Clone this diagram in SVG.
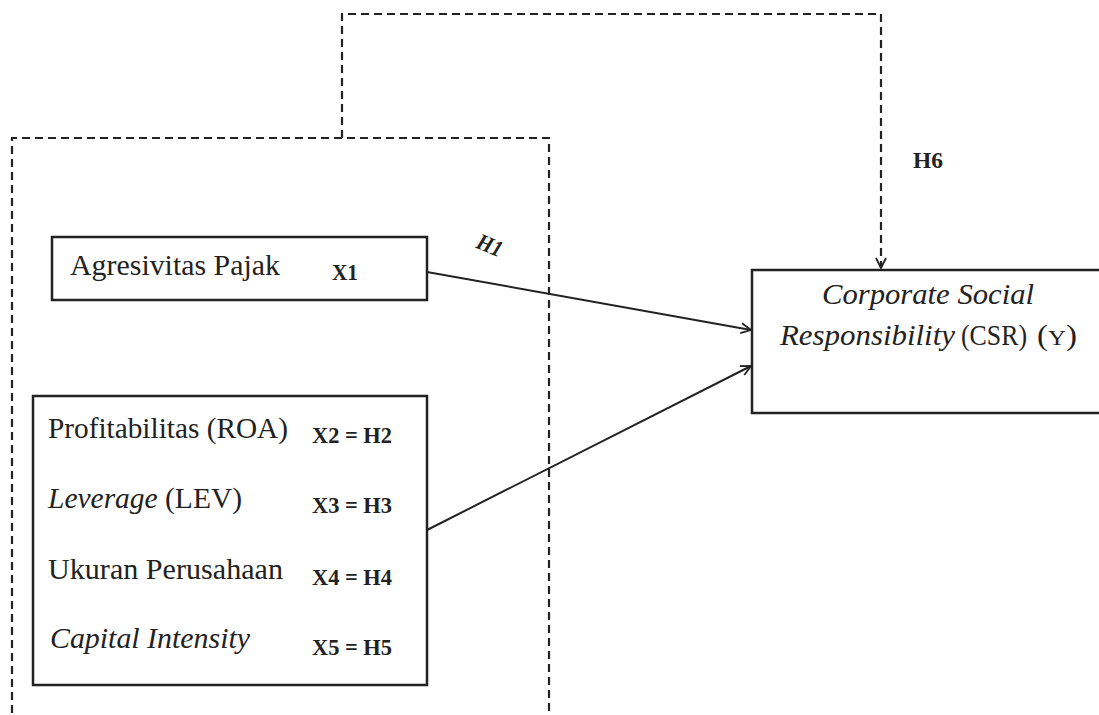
<svg xmlns="http://www.w3.org/2000/svg" width="1099" height="715" viewBox="0 0 1099 715">
<style>
.box{fill:#fff;stroke:#222;stroke-width:2.5}
.dash{fill:none;stroke:#222;stroke-width:2.2;stroke-dasharray:8,5}
.conn{fill:none;stroke:#222;stroke-width:2}
.t{font-family:"Liberation Serif",serif;font-size:29px;fill:#222}
.it{font-style:italic}
.b{font-family:"Liberation Serif",serif;font-size:23px;font-weight:bold;fill:#222}
</style>
<defs>
<marker id="arr" viewBox="0 0 12 12" refX="11" refY="6" markerWidth="12" markerHeight="12" markerUnits="userSpaceOnUse" orient="auto">
<path d="M1,1 L11,6 L1,11" fill="none" stroke="#222" stroke-width="1.8"/>
</marker>
</defs>
<rect width="1099" height="715" fill="#fff"/>
<g id="group-outline">
<path class="dash" d="M12,713 L12,138 L549,138 L549,713"/>
</g>
<g id="connectors">
<path class="dash" d="M342,138 L342,14 L881,14 L881,268" marker-end="url(#arr)"/>
<line class="conn" x1="427" y1="272" x2="751" y2="330" marker-end="url(#arr)"/>
<line class="conn" x1="427" y1="530" x2="751" y2="366" marker-end="url(#arr)"/>
<text class="b it" x="490" y="253" text-anchor="middle" textLength="26" lengthAdjust="spacingAndGlyphs" transform="rotate(22 490 245)">H1</text>
<text class="b" x="913" y="168" textLength="30" lengthAdjust="spacingAndGlyphs">H6</text>
</g>
<g id="node-x1">
<rect class="box" x="52" y="237" width="375" height="63"/>
<text class="t" x="70" y="275" textLength="210" lengthAdjust="spacingAndGlyphs">Agresivitas Pajak</text>
<text class="b" x="332" y="280" textLength="26" lengthAdjust="spacingAndGlyphs">X1</text>
</g>
<g id="node-x2-x5">
<rect class="box" x="33" y="396" width="394" height="289"/>
<text class="t" x="48" y="438" textLength="240" lengthAdjust="spacingAndGlyphs">Profitabilitas (ROA)</text>
<text class="b" x="312" y="443" textLength="80" lengthAdjust="spacingAndGlyphs">X2 = H2</text>
<text class="t" x="48" y="508" textLength="194" lengthAdjust="spacingAndGlyphs"><tspan class="it">Leverage</tspan> (LEV)</text>
<text class="b" x="312" y="513" textLength="80" lengthAdjust="spacingAndGlyphs">X3 = H3</text>
<text class="t" x="48" y="579" textLength="235" lengthAdjust="spacingAndGlyphs">Ukuran Perusahaan</text>
<text class="b" x="312" y="585" textLength="80" lengthAdjust="spacingAndGlyphs">X4 = H4</text>
<text class="t it" x="50" y="648" textLength="200" lengthAdjust="spacingAndGlyphs">Capital Intensity</text>
<text class="b" x="312" y="655" textLength="80" lengthAdjust="spacingAndGlyphs">X5 = H5</text>
</g>
<g id="node-y">
<rect class="box" x="752" y="270" width="360" height="143"/>
<text class="t it" x="822" y="304" textLength="212" lengthAdjust="spacingAndGlyphs">Corporate Social</text>
<text class="t it" x="780" y="345" textLength="175" lengthAdjust="spacingAndGlyphs">Responsibility</text>
<text class="t" x="961" y="345" textLength="66" lengthAdjust="spacingAndGlyphs">(CSR)</text>
<text class="t" x="1037" y="345" textLength="40" lengthAdjust="spacingAndGlyphs">(<tspan font-size="22">Y</tspan>)</text>
</g>
</svg>
